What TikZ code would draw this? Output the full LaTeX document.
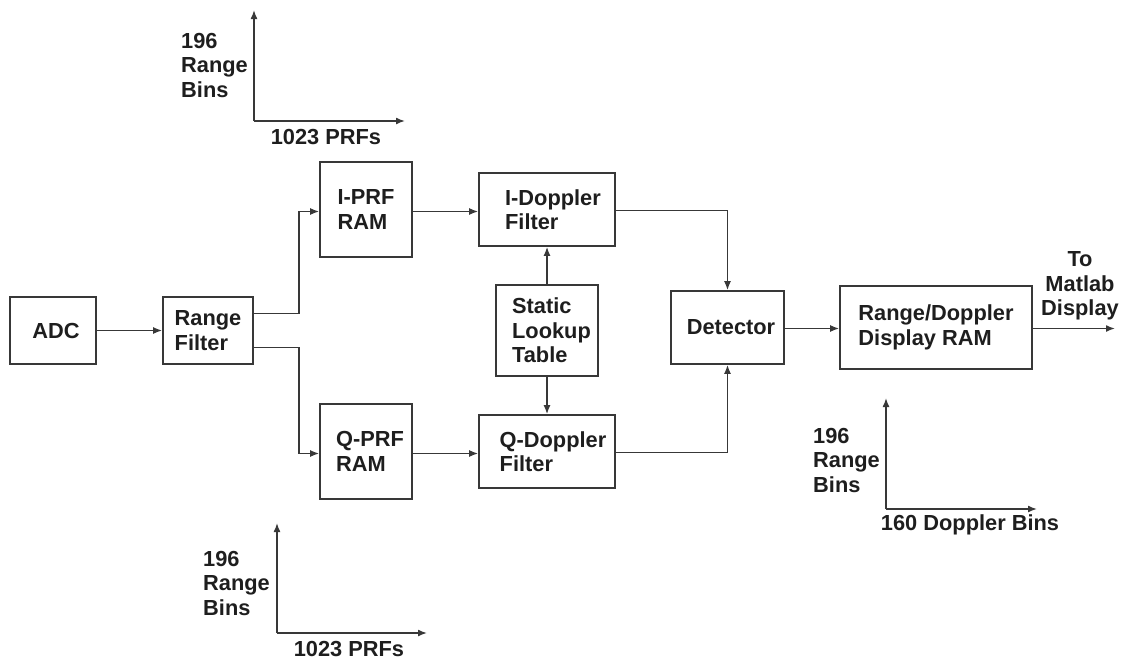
\documentclass[tikz,border=0pt]{standalone}
\usepackage{fontspec}
\setmainfont{Liberation Sans}
\usetikzlibrary{arrows.meta}
\definecolor{ink}{HTML}{1E1E1E}
\definecolor{lin}{HTML}{383838}
\begin{document}
\begin{tikzpicture}[x=1pt,y=-1pt,
  every node/.style={text=ink,font=\fontsize{21.8}{24.5}\selectfont\bfseries},
  blk/.style={draw=lin,line width=1.7pt,inner sep=0pt,align=left},
  arr/.style={draw=lin,line width=1.5pt,-{Latex[length=9pt,width=7pt]}},
  lab/.style={align=left,inner sep=0pt,anchor=west}]
\useasboundingbox (0,0) rectangle (1127,662);
% blocks
\node[blk,minimum width=86pt,minimum height=67pt] (adc) at (53,330.5) {\hspace*{6pt}ADC};
\node[blk,minimum width=90pt,minimum height=67pt] (rf) at (208,330.5) {Range\\Filter};
\node[blk,minimum width=92pt,minimum height=95pt] (iprf) at (366,209.5) {I-PRF\\RAM};
\node[blk,minimum width=92pt,minimum height=95pt] (qprf) at (366,451.5) {\hspace*{8pt}Q-PRF\\\hspace*{8pt}RAM};
\node[blk,minimum width=136pt,minimum height=73pt] (idf) at (547,209.5) {\hspace*{12pt}I-Doppler\\\hspace*{12pt}Filter};
\node[blk,minimum width=136pt,minimum height=73pt] (qdf) at (547,451.5) {\hspace*{12pt}Q-Doppler\\\hspace*{12pt}Filter};
\node[blk,minimum width=102pt,minimum height=91pt] (slt) at (547,330.5) {\hspace*{9pt}Static\\\hspace*{9pt}Lookup\\\hspace*{9pt}Table};
\node[blk,minimum width=113pt,minimum height=73pt] (det) at (727.5,327.5) {\hspace*{7pt}Detector};
\node[blk,minimum width=192pt,minimum height=83pt] (rd) at (936,327.5) {Range/Doppler\\Display RAM};
\coordinate (out) at (1115,328.5);
\node[align=center,inner sep=0pt] (tm) at (1080,286) {To\\Matlab\\Display};
% connectors
\draw[arr] (adc) -- (rf);
\draw[arr] ([yshift=17pt]rf.east) -- ++(45,0) |- ([yshift=-2pt]iprf.west);
\draw[arr] ([yshift=-17pt]rf.east) -- ++(45,0) |- ([yshift=-2pt]qprf.west);
\draw[arr] ([yshift=-2pt]iprf.east) -- ([yshift=-2pt]idf.west);
\draw[arr] ([yshift=-2pt]qprf.east) -- ([yshift=-2pt]qdf.west);
\draw[arr] (slt) -- (idf);
\draw[arr] (slt) -- (qdf);
\draw[arr] ([yshift=-1pt]idf.east) -| (det.north);
\draw[arr] ([yshift=-1pt]qdf.east) -| (det.south);
\draw[arr] ([yshift=-1pt]det.east) -- ([yshift=-1pt]rd.west);
\draw[arr] ([yshift=-1pt]rd.east) -- (out);
% axes 1
\coordinate (o1) at (254,121); \coordinate (t1) at (254,10); \coordinate (r1) at (405,121);
\draw[arr] (o1) -- (t1); \draw[arr] (o1) -- (r1);
\node[lab] (a1y) at (181,65) {196\\Range\\Bins};
\node[inner sep=0pt] (a1x) at (326,137) {1023 PRFs};
% axes 2
\coordinate (o2) at (277,633); \coordinate (t2) at (277,523); \coordinate (r2) at (427,633);
\draw[arr] (o2) -- (t2); \draw[arr] (o2) -- (r2);
\node[lab] (a2y) at (203,583) {196\\Range\\Bins};
\node[inner sep=0pt] (a2x) at (349,649) {1023 PRFs};
% axes 3
\coordinate (o3) at (886,509); \coordinate (t3) at (886,398); \coordinate (r3) at (1037,509);
\draw[arr] (o3) -- (t3); \draw[arr] (o3) -- (r3);
\node[lab] (a3y) at (813,460) {196\\Range\\Bins};
\node[inner sep=0pt] (a3x) at (970,525) {160 Doppler Bins};
\end{tikzpicture}
\end{document}
